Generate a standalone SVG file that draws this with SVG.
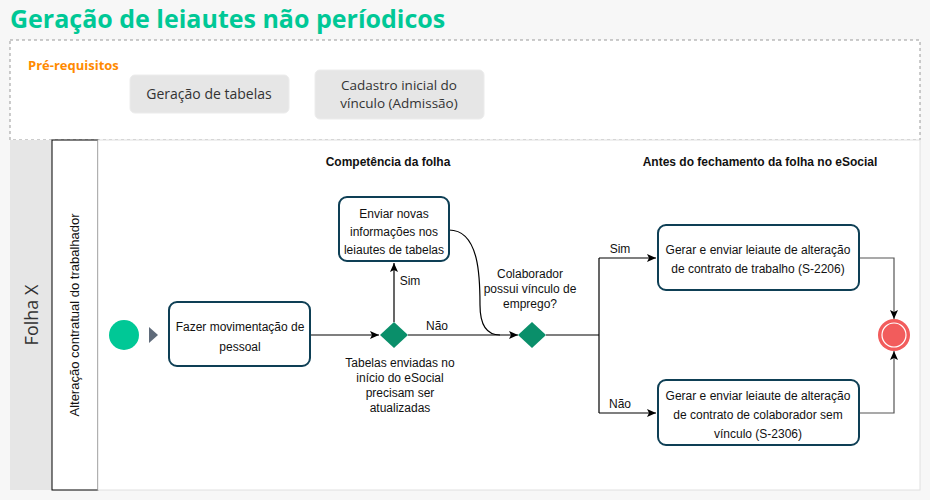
<svg xmlns="http://www.w3.org/2000/svg" width="930" height="500" viewBox="0 0 930 500">
<defs>
<marker id="arr" markerWidth="10" markerHeight="10" refX="9" refY="5" orient="auto" markerUnits="userSpaceOnUse"><path d="M0,1 L9,5 L0,9 L2,5 Z" fill="#000"/></marker>
</defs>
<style>
.t{font-family:"Liberation Sans",Arial,sans-serif;font-size:12px;fill:#111;text-anchor:middle}
.b{font-weight:bold}
.box{fill:#fff;stroke:#0e3f55;stroke-width:2}
.pre{fill:#e6e6e6;stroke:#ececec}
.o{font-family:"Open Sans","Noto Sans",sans-serif;font-size:14px;fill:#333;text-anchor:middle}
.ln{fill:none;stroke:#000;stroke-width:1.2}
.dia{fill:#0a8f6a}
</style>
<rect width="930" height="500" fill="#f7f7f7"/>
<text x="10" y="28" font-family="Open Sans,Noto Sans,sans-serif" font-size="25" font-weight="bold" fill="#00c896">Geração de leiautes não períodicos</text>
<rect x="10" y="40" width="910" height="100" fill="#fff" stroke="#999" stroke-dasharray="3,3"/>
<text x="28" y="70" font-family="Open Sans,Noto Sans,sans-serif" font-size="13" font-weight="bold" fill="#ff8a00">Pré-requisitos</text>
<g id="pre1"><rect class="pre" x="130" y="75" width="159" height="38" rx="5"/><text class="o" x="209" y="99">Geração de tabelas</text></g>
<g id="pre2"><rect class="pre" x="315" y="70" width="169" height="49" rx="5"/><text class="o" x="399" y="90" style="font-size:13.5px">Cadastro inicial do</text><text class="o" x="399" y="108" style="font-size:13.5px">vínculo (Admissão)</text></g>
<rect x="10" y="140" width="42" height="350" fill="#e6e6e6"/>
<text transform="translate(38,315) rotate(-90)" class="o" style="font-size:18px">Folha X</text>
<rect x="52" y="140" width="46" height="350" fill="#fff" stroke="#000"/>
<text transform="translate(79,315) rotate(-90)" class="t" style="font-size:13px">Alteração contratual do trabalhador</text>
<rect x="98" y="140" width="822" height="350" fill="#fff" stroke="#e0e0e0"/>
<text class="t b" x="388" y="166">Competência da folha</text>
<text class="t b" x="760" y="166">Antes do fechamento da folha no eSocial</text>
<g id="connectors">
<path class="ln" d="M310,335 H379" marker-end="url(#arr)"/>
<path class="ln" d="M394,322 V263" marker-end="url(#arr)"/>
<path class="ln" d="M408,335 H518" marker-end="url(#arr)"/>
<path class="ln" d="M449,230 C480,230 480,280 480,305 C480,330 490,335 500,335"/>
<path class="ln" d="M546,335 H599"/>
<path class="ln" d="M599,258 V413"/>
<path class="ln" d="M599,258 H656" marker-end="url(#arr)"/>
<path class="ln" d="M599,413 H656" marker-end="url(#arr)"/>
<path class="ln" d="M859,258 H894 V319" style="stroke:#555" marker-end="url(#arr)"/>
<path class="ln" d="M859,413 H894 V351" style="stroke:#555" marker-end="url(#arr)"/>
<text class="t" x="410" y="285">Sim</text>
<text class="t" x="437" y="330">Não</text>
<text class="t" x="620" y="253">Sim</text>
<text class="t" x="620" y="408">Não</text>
</g>
<g id="start"><circle cx="124" cy="335" r="15" fill="#00c896"/><path d="M149,327 L158,335 L149,343 Z" fill="#5f6b7a"/></g>
<g id="move"><rect class="box" x="169" y="302" width="141" height="64" rx="8"/><text class="t" x="240" y="331">Fazer movimentação de</text><text class="t" x="240" y="351">pessoal</text></g>
<g id="gw1"><path class="dia" d="M394,322 L408,335 L394,348 L380,335 Z"/><text class="t" x="400" y="367">Tabelas enviadas no</text><text class="t" x="400" y="382">início do eSocial</text><text class="t" x="400" y="397">precisam ser</text><text class="t" x="400" y="412">atualizadas</text></g>
<g id="tab"><rect class="box" x="339" y="197" width="110" height="64" rx="8"/><text class="t" x="394" y="218">Enviar novas</text><text class="t" x="394" y="236">informações nos</text><text class="t" x="394" y="254">leiautes de tabelas</text></g>
<g id="gw2"><path class="dia" d="M532,322 L546,335 L532,348 L518,335 Z"/><text class="t" x="530" y="278">Colaborador</text><text class="t" x="530" y="293">possui vínculo de</text><text class="t" x="530" y="308">emprego?</text></g>
<g id="s2206"><rect class="box" x="658" y="225" width="201" height="65" rx="8"/><text class="t" x="758" y="254">Gerar e enviar leiaute de alteração</text><text class="t" x="758" y="273">de contrato de trabalho (S-2206)</text></g>
<g id="s2306"><rect class="box" x="658" y="380" width="201" height="65" rx="8"/><text class="t" x="758" y="400">Gerar e enviar leiaute de alteração</text><text class="t" x="758" y="419">de contrato de colaborador sem</text><text class="t" x="758" y="438">vínculo (S-2306)</text></g>
<g id="end"><circle cx="894" cy="335" r="16" fill="#f25c5c"/><circle cx="894" cy="335" r="12" fill="none" stroke="#fff" stroke-width="1.2"/></g>
</svg>
